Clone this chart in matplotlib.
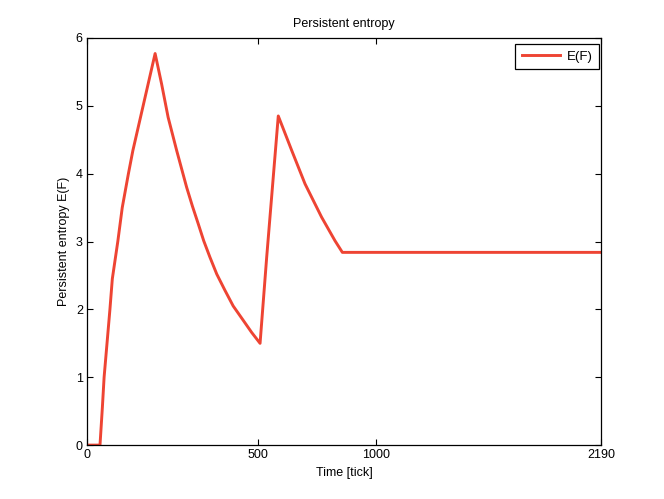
import numpy as np
import matplotlib
matplotlib.use("Agg")
from matplotlib import pyplot as plt

# valores (tiempo en ticks, entropia)
time_tick = [0, 38, 45, 50, 67, 74, 90, 103, 121, 134, 164, 199,
             218, 237, 262, 291, 308, 325, 341, 359, 379, 403, 427, 452, 481, 508,
             536, 585, 642, 698, 768, 825, 856, 2190]
entropy = [0, 0, 0.56, 1.0, 2.0, 2.45, 3.0, 3.5, 4.0, 4.34, 5.0, 5.77,
           5.32, 4.83, 4.34, 3.80, 3.52, 3.26, 3.01, 2.77, 2.52, 2.28, 2.05, 1.87, 1.66, 1.50,
           2.77, 4.85, 4.34, 3.85, 3.36, 3.01, 2.84, 2.84]

x_ticks = [0, 500, 1000, 2190]
x_tick_frac = [0, 0.3331, 0.5632, 1.0]   # posicion de cada tick en el eje
y_ticks = [0, 1, 2, 3, 4, 5, 6]

plt.rcParams['font.family'] = ['Liberation Sans', 'DejaVu Sans']
plt.rcParams['font.size'] = 9


def fwd(x):
    return np.interp(x, x_ticks, x_tick_frac)


def inv(f):
    return np.interp(f, x_tick_frac, x_ticks)


fig = plt.figure(figsize=(6.64, 4.99), dpi=100)
ax = fig.add_axes([0.131, 0.108, 0.774, 0.816])

ax.plot(time_tick, entropy, color='#EE4433', lw=2.1, label='E(F)')

ax.set_xscale('function', functions=(fwd, inv))
ax.set_xlim(0, 2190)
ax.set_ylim(0, 6)
ax.set_xticks(x_ticks)
ax.set_xticklabels([str(t) for t in x_ticks])
ax.set_yticks(y_ticks)
ax.minorticks_off()
ax.tick_params(direction='in', top=True, right=True, length=4, width=0.8, pad=3)
for s in ax.spines.values():
    s.set_linewidth(0.9)

ax.set_title('Persistent entropy', fontsize=9, pad=8)
ax.set_xlabel('Time [tick]', fontsize=9)
ax.set_ylabel('Persistent entropy E(F)', fontsize=9)

leg = ax.legend(loc='upper right', bbox_to_anchor=(0.996, 0.985), borderaxespad=0,
                fancybox=False, framealpha=1, edgecolor='black', fontsize=9.5,
                handlelength=2.9, borderpad=0.5, handletextpad=0.5)
leg.get_frame().set_linewidth(0.9)

plt.savefig('out.png', dpi=100)
